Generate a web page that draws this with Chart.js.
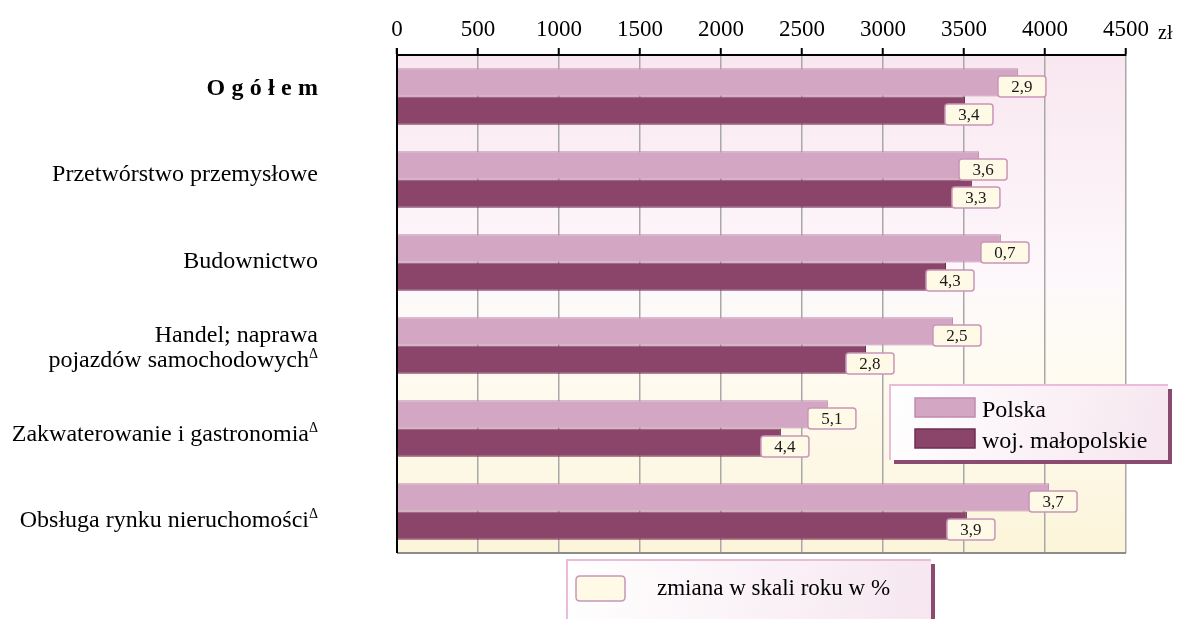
<!DOCTYPE html>
<html><head><meta charset="utf-8">
<script src="https://cdn.jsdelivr.net/npm/chart.js@4"></script>
<style>html,body{margin:0;padding:0;background:#fff;}#wrap{width:1177px;height:619px;position:relative}</style>
</head><body><div id="wrap"><canvas id="c" width="1177" height="619"></canvas></div>
<script>
// ---- data ----
const categories = ['Ogółem', 'Przetwórstwo przemysłowe', 'Budownictwo', ['Handel; naprawa', 'pojazdów samochodowych'], 'Zakwaterowanie i gastronomia', 'Obsługa rynku nieruchomości'];
const categoryNote = [false, false, false, true, true, true];
const seriesNames = ['Polska', 'woj. małopolskie'];
const polska = [3833, 3593, 3728, 3432, 2660, 4025];
const malopolskie = [3506, 3549, 3389, 2895, 2370, 3518];
const changePolska = ['2,9', '3,6', '0,7', '2,5', '5,1', '3,7'];
const changeMalopolskie = ['3,4', '3,3', '4,3', '2,8', '4,4', '3,9'];
const xTicks = [0, 500, 1000, 1500, 2000, 2500, 3000, 3500, 4000, 4500];
const unitLabel = 'zł';
const changeLegend = 'zmiana w skali roku w %';
const noteMark = '\u0394';

const SERIF = "'Liberation Serif', 'Times New Roman', serif";
const colPolska = '#d3a7c4', colPolskaB = '#c08aae';
const colMalo = '#8b456b', colMaloB = '#6c2f50';
const boxFill = '#fffae6', boxStroke = '#c995b9';

function roundRect(ctx, x, y, w, h, r) {
  ctx.beginPath();
  ctx.moveTo(x + r, y); ctx.lineTo(x + w - r, y); ctx.quadraticCurveTo(x + w, y, x + w, y + r);
  ctx.lineTo(x + w, y + h - r); ctx.quadraticCurveTo(x + w, y + h, x + w - r, y + h);
  ctx.lineTo(x + r, y + h); ctx.quadraticCurveTo(x, y + h, x, y + h - r);
  ctx.lineTo(x, y + r); ctx.quadraticCurveTo(x, y, x + r, y); ctx.closePath();
}

const bgPlugin = {
  id: 'bg',
  beforeDraw(chart) {
    const { ctx, chartArea: a } = chart;
    const g = ctx.createLinearGradient(0, a.top, 0, a.bottom);
    g.addColorStop(0, '#f9e7f0');
    g.addColorStop(0.45, '#fdf8fb');
    g.addColorStop(0.6, '#fefbf2');
    g.addColorStop(1, '#fcf5da');
    ctx.save(); ctx.fillStyle = g; ctx.fillRect(a.left, a.top, a.right - a.left, a.bottom - a.top); ctx.restore();
  }
};

const decoPlugin = {
  id: 'deco',
  afterDraw(chart) {
    const { ctx, chartArea: a } = chart;
    const yScale = chart.scales.y;
    ctx.save();
    // bottom line and left axis
    ctx.strokeStyle = '#8c8c8c'; ctx.lineWidth = 2;
    ctx.beginPath(); ctx.moveTo(a.left, a.bottom); ctx.lineTo(a.right, a.bottom); ctx.stroke();
    ctx.strokeStyle = '#000'; ctx.lineWidth = 2;
    ctx.beginPath(); ctx.moveTo(a.left, a.top - 7); ctx.lineTo(a.left, a.bottom); ctx.stroke();

    // unit label
    ctx.fillStyle = '#000'; ctx.font = '20px ' + SERIF; ctx.textAlign = 'left'; ctx.textBaseline = 'alphabetic';
    ctx.fillText(unitLabel, a.right + 32, 39);

    // category labels
    const xr = 318;
    const n = categories.length;
    categories.forEach((lab, i) => {
      const cy = yScale.getPixelForValue(i) - 1 + (i - (n - 1) / 2) * 3.4;
      const lines = Array.isArray(lab) ? lab : [lab];
      const lh = 25;
      lines.forEach((ln, k) => {
        const base = cy + 8 + (k - (lines.length - 1) / 2) * lh;
        let xEnd = xr;
        const last = k === lines.length - 1;
        if (last && categoryNote[i]) {
          ctx.font = '14px ' + SERIF;
          const w = ctx.measureText(noteMark).width;
          ctx.textAlign = 'left';
          ctx.fillText(noteMark, xr - w, base - 9);
          xEnd = xr - w;
        }
        if (i === 0) {
          ctx.font = 'bold 24px ' + SERIF;
          const chars = [...ln];
          const gap = 6.3;
          let total = chars.reduce((s, c) => s + ctx.measureText(c).width, 0) + gap * (chars.length - 1);
          let x = xEnd - total;
          ctx.textAlign = 'left';
          chars.forEach(c => { ctx.fillText(c, x, base); x += ctx.measureText(c).width + gap; });
        } else {
          ctx.font = '24px ' + SERIF;
          ctx.textAlign = 'right';
          ctx.fillText(ln, xEnd, base);
        }
      });
    });

    // change boxes
    const changes = [changePolska, changeMalopolskie];
    chart.data.datasets.forEach((ds, di) => {
      const meta = chart.getDatasetMeta(di);
      meta.data.forEach((bar, i) => {
        const w = 48, h = 21;
        const cx = bar.x + 4, cy = bar.y + 4;
        roundRect(ctx, cx - w / 2, cy - h / 2, w, h, 3);
        ctx.fillStyle = boxFill; ctx.fill();
        ctx.strokeStyle = boxStroke; ctx.lineWidth = 1.5; ctx.stroke();
        ctx.fillStyle = '#1a1a1a'; ctx.font = '17px ' + SERIF; ctx.textAlign = 'center'; ctx.textBaseline = 'middle';
        ctx.fillText(changes[di][i], cx, cy + 1);
        ctx.textBaseline = 'alphabetic';
      });
    });

    // legend 1
    let lx = 890, ly = 385, lw = 278, lhh = 75;
    ctx.fillStyle = '#8b4a6f'; ctx.fillRect(lx + 4, ly + 4, lw, lhh);
    let g = ctx.createLinearGradient(lx, ly, lx + lw, ly + lhh);
    g.addColorStop(0, '#ffffff'); g.addColorStop(1, '#f6e6ef');
    ctx.fillStyle = g; ctx.fillRect(lx, ly, lw, lhh);
    ctx.strokeStyle = '#ebbcd8'; ctx.lineWidth = 2;
    ctx.beginPath(); ctx.moveTo(lx, ly + lhh); ctx.lineTo(lx, ly); ctx.lineTo(lx + lw, ly); ctx.stroke();
    const sw = [[colPolska, colPolskaB], [colMalo, colMaloB]];
    seriesNames.forEach((nm, k) => {
      const sy = ly + 13 + k * 31;
      ctx.fillStyle = sw[k][0]; ctx.fillRect(lx + 25, sy, 60, 19);
      ctx.strokeStyle = sw[k][1]; ctx.lineWidth = 1.5; ctx.strokeRect(lx + 25, sy, 60, 19);
      ctx.fillStyle = '#000'; ctx.font = '24px ' + SERIF; ctx.textAlign = 'left';
      ctx.fillText(nm, lx + 92, sy + 19);
    });

    // legend 2
    lx = 567; ly = 560; lw = 364; lhh = 70;
    ctx.fillStyle = '#8b4a6f'; ctx.fillRect(lx + 4, ly + 4, lw, lhh);
    g = ctx.createLinearGradient(lx, ly, lx + lw, ly + lhh);
    g.addColorStop(0, '#ffffff'); g.addColorStop(1, '#f6e6ef');
    ctx.fillStyle = g; ctx.fillRect(lx, ly, lw, lhh);
    ctx.strokeStyle = '#ebbcd8'; ctx.lineWidth = 2;
    ctx.beginPath(); ctx.moveTo(lx, ly + lhh); ctx.lineTo(lx, ly); ctx.lineTo(lx + lw, ly); ctx.stroke();
    roundRect(ctx, lx + 9, ly + 16, 49, 25, 4);
    ctx.fillStyle = boxFill; ctx.fill(); ctx.strokeStyle = boxStroke; ctx.lineWidth = 1.5; ctx.stroke();
    ctx.fillStyle = '#000'; ctx.font = '23px ' + SERIF; ctx.textAlign = 'left';
    ctx.fillText(changeLegend, lx + 90, ly + 35);
    ctx.restore();
  }
};

new Chart(document.getElementById('c'), {
  type: 'bar',
  data: {
    labels: categories,
    datasets: [
      { label: seriesNames[0], data: polska, backgroundColor: colPolska, borderColor: colPolskaB, borderWidth: 1, borderSkipped: 'start' },
      { label: seriesNames[1], data: malopolskie, backgroundColor: colMalo, borderColor: colMaloB, borderWidth: 1, borderSkipped: 'start' }
    ]
  },
  options: {
    indexAxis: 'y',
    responsive: false,
    animation: false,
    devicePixelRatio: 1,
    datasets: { bar: { barPercentage: 1, categoryPercentage: 0.68 } },
    layout: { padding: { left: 397, right: 51, top: 0, bottom: 66 } },
    plugins: { legend: { display: false }, tooltip: { enabled: false } },
    scales: {
      x: {
        type: 'linear', position: 'top', min: 0, max: 4500,
        afterBuildTicks: s => { s.ticks = xTicks.map(v => ({ value: v })); },
        afterFit: s => { s.height = 55; },
        ticks: { font: { size: 23, family: SERIF }, color: '#000', padding: 4, maxRotation: 0, autoSkip: false, callback: v => String(v) },
        grid: { color: '#a8a8a8', lineWidth: 1.5, tickLength: 7, tickColor: '#000', tickWidth: 2 },
        border: { display: true, color: '#000', width: 2 }
      },
      y: { type: 'category', display: false, offset: true, grid: { display: false } }
    }
  },
  plugins: [bgPlugin, decoPlugin]
});
</script></body></html>
